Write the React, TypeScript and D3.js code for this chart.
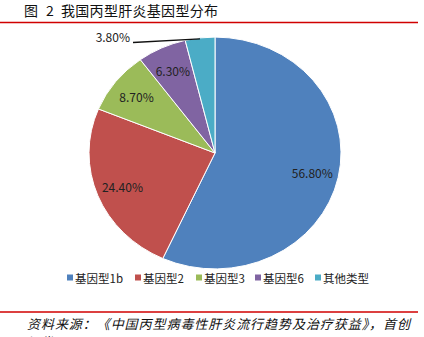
import React from "react";
import * as d3 from "d3";

const categories = ["基因型1b", "基因型2", "基因型3", "基因型6", "其他类型"];
const values = [56.8, 24.4, 8.7, 6.3, 3.8];
const labels = ["56.80%", "24.40%", "8.70%", "6.30%", "3.80%"];
const colors = ["#4F81BD", "#C0504D", "#9BBB59", "#8064A2", "#4BACC6"];
const legendX = [67, 135, 196, 255, 315];

const W = 424;
const H = 337;
const cx = 215;
const cy = 153;
const R = 126;
const ry = 0.92;

export default function App() {
  const pie = d3.pie<number>().sort(null).value((d) => d)(values);
  const arc = d3.arc<d3.PieArcDatum<number>>().innerRadius(0).outerRadius(R);
  const labelArc = d3.arc<d3.PieArcDatum<number>>().innerRadius(R * 0.79).outerRadius(R * 0.79);
  const edgeArc = d3.arc<d3.PieArcDatum<number>>().innerRadius(R).outerRadius(R);
  const font = "'Noto Sans CJK SC', 'Noto Sans', sans-serif";

  return (
    <svg width={W} height={H} style={{ position: "absolute", left: 0, top: 0, background: "#fff" }}>
      <rect x={0} y={0} width={W} height={H} fill="#fff" />
      <text x={24} y={16} fontFamily={font} fontSize={14} fill="#111">图</text>
      <text x={46} y={16} fontFamily={font} fontSize={14} fill="#111">2</text>
      <text x={61} y={16} fontFamily={font} fontSize={14} fill="#111" textLength={157}>
        我国丙型肝炎基因型分布
      </text>
      <line x1={0} x2={418} y1={22.5} y2={22.5} stroke="#D00000" strokeWidth={1.5} />
      <g transform={`translate(${cx},${cy}) scale(1,${ry})`}>
        {pie.map((p, i) => (
          <path
            key={i}
            d={arc(p) || ""}
            fill={colors[i]}
            stroke="#fff"
            strokeWidth={1}
            vectorEffect="non-scaling-stroke"
          />
        ))}
      </g>
      {pie.map((p, i) => {
        if (i === 4) {
          const [ex, ey] = edgeArc.centroid(p);
          const px = cx + ex;
          const py = cy + ey * ry;
          return (
            <g key={i}>
              <line x1={px} y1={py + 1} x2={133} y2={42.5} stroke="#111" strokeWidth={1.3} />
              <text x={130} y={42} textAnchor="end" fontFamily={font} fontSize={12} fill="#222">
                {labels[i]}
              </text>
            </g>
          );
        }
        const [lx, ly] = labelArc.centroid(p);
        return (
          <text
            key={i}
            x={cx + lx}
            y={cy + ly * ry}
            textAnchor="middle"
            dominantBaseline="central"
            fontFamily={font}
            fontSize={12}
            fill="#222"
          >
            {labels[i]}
          </text>
        );
      })}
      {categories.map((c, i) => (
        <g key={c}>
          <rect x={legendX[i]} y={274.5} width={6} height={6} fill={colors[i]} />
          <text x={legendX[i] + 8} y={278} dominantBaseline="central" fontFamily={font} fontSize={11.5} fill="#222">
            {c}
          </text>
        </g>
      ))}
      <line x1={0} x2={418} y1={312} y2={312} stroke="#D00000" strokeWidth={1.5} />
      <text x={27} y={329} fontFamily={font} fontSize={13} fontStyle="italic" fill="#111" textLength={383}>
        资料来源：《中国丙型病毒性肝炎流行趋势及治疗获益》，首创
      </text>
      <text x={27} y={347} fontFamily={font} fontSize={13} fontStyle="italic" fill="#111">
        证券
      </text>
    </svg>
  );
}
